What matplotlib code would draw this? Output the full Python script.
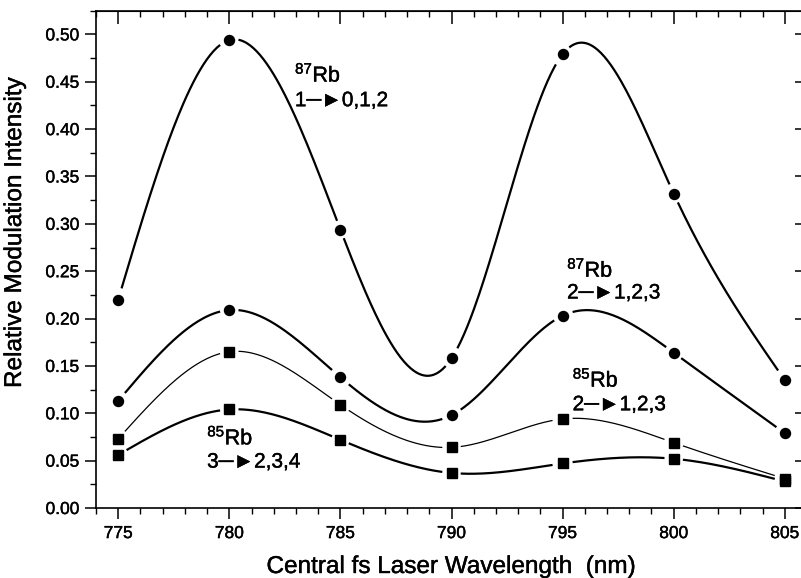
import numpy as np
import matplotlib
matplotlib.use("Agg")
import matplotlib.pyplot as plt
import matplotlib.patheffects as pe

plt.rcParams['font.family'] = ['Liberation Sans', 'DejaVu Sans']
plt.rcParams['mathtext.fontset'] = 'custom'
plt.rcParams['mathtext.rm'] = 'Liberation Sans'
plt.rcParams['mathtext.it'] = 'Liberation Sans'

wavelength = [775, 780, 785, 790, 795, 800, 805]
rb87_1 = [0.220, 0.494, 0.294, 0.158, 0.479, 0.332, 0.135]
rb87_2 = [0.113, 0.209, 0.138, 0.098, 0.203, 0.164, 0.079]
rb85_2 = [0.073, 0.165, 0.109, 0.064, 0.094, 0.069, 0.031]
rb85_3 = [0.056, 0.104, 0.072, 0.037, 0.047, 0.052, 0.028]

labels = [
    (782.95, 0.457, 0.430, "87", "1", "0,1,2"),
    (795.2, 0.251, 0.227, "87", "2", "1,2,3"),
    (795.45, 0.135, 0.109, "85", "2", "1,2,3"),
    (779.0, 0.074, 0.0485, "85", "3", "2,3,4"),
]

thick = [pe.withStroke(linewidth=0.3, foreground='black')]


def natural_spline(x, y, n=400):
    x = np.asarray(x, float)
    y = np.asarray(y, float)
    k = len(x)
    h = np.diff(x)
    A = np.zeros((k, k))
    b = np.zeros(k)
    A[0, 0] = 1
    A[-1, -1] = 1
    for i in range(1, k - 1):
        A[i, i - 1] = h[i - 1]
        A[i, i] = 2 * (h[i - 1] + h[i])
        A[i, i + 1] = h[i]
        b[i] = 6 * ((y[i + 1] - y[i]) / h[i] - (y[i] - y[i - 1]) / h[i - 1])
    M = np.linalg.solve(A, b)
    xs = np.linspace(x[0], x[-1], n)
    idx = np.clip(np.searchsorted(x, xs) - 1, 0, k - 2)
    x0, x1 = x[idx], x[idx + 1]
    hh = x1 - x0
    t0 = x1 - xs
    t1 = xs - x0
    ys = (M[idx] * t0 ** 3 / (6 * hh) + M[idx + 1] * t1 ** 3 / (6 * hh)
          + (y[idx] / hh - M[idx] * hh / 6) * t0
          + (y[idx + 1] / hh - M[idx + 1] * hh / 6) * t1)
    return xs, ys


fig = plt.figure(figsize=(8.01, 5.78), dpi=100)
ax = fig.add_axes([96 / 801, 70 / 578, 711 / 801, 497.3 / 578])
ax.set_xlim(774, 806)
ax.set_ylim(0, 0.525)

series = [
    (rb87_1, 'o', 7.2, 1.6),
    (rb87_2, 'o', 7.2, 1.6),
    (rb85_2, 's', 6.8, 0.9),
    (rb85_3, 's', 6.8, 1.6),
]

fig.canvas.draw()
for ys, mk, ms, lw in series:
    xs_c, ys_c = natural_spline(wavelength, ys)
    disp = ax.transData.transform(np.column_stack([xs_c, ys_c]))
    pts = ax.transData.transform(np.column_stack([wavelength, ys]))
    d = np.min(np.hypot(disp[:, None, 0] - pts[None, :, 0],
                        disp[:, None, 1] - pts[None, :, 1]), axis=1)
    ys_m = ys_c.copy()
    ys_m[d < 9] = np.nan
    ax.plot(xs_c, ys_m, color='black', lw=lw, solid_capstyle='butt', zorder=2)
    ax.plot(wavelength, ys, linestyle='none', marker=mk, ms=ms,
            color='black', zorder=3, clip_on=False)

for x, y1, y2, iso, lo, hi in labels:
    ax.text(x, y1, r"$^{%s}$Rb" % iso, fontsize=15.5, va='center', ha='left',
            path_effects=thick)
    ax.text(x, y2, lo + "\u2500\u25BA" + hi, fontsize=15, va='center', ha='left',
            family=['Liberation Sans', 'DejaVu Sans'], path_effects=thick)

ax.set_xticks(wavelength)
ax.set_xticks(np.arange(774, 807, 1), minor=True)
ax.set_yticks(np.arange(0, 0.501, 0.05))
ax.set_yticks(np.arange(0.025, 0.526, 0.05), minor=True)
ax.set_yticklabels(["%.2f" % v for v in np.arange(0, 0.501, 0.05)])

ax.tick_params(which='major', direction='out', length=8, width=1.1,
               labelsize=12.5, top=False, right=False)
ax.tick_params(axis='y', which='major', pad=4)
ax.tick_params(axis='x', which='major', pad=5)
ax.tick_params(which='minor', direction='out', length=4, width=1.0,
               top=False, right=False)
for lab in ax.get_xticklabels() + ax.get_yticklabels():
    lab.set_path_effects(thick)
for s in ax.spines.values():
    s.set_linewidth(1.2)

sx = ax.secondary_xaxis('top')
sx.set_xticks(wavelength)
sx.set_xticks(np.arange(774, 807, 1), minor=True)
sx.tick_params(which='major', direction='in', length=9, width=1.1, labeltop=False)
sx.tick_params(which='minor', direction='in', length=4, width=1.0)
sx.set_xticklabels([])
sy = ax.secondary_yaxis('right')
sy.set_yticks(np.arange(0, 0.501, 0.05))
sy.set_yticks(np.arange(0.025, 0.526, 0.05), minor=True)
sy.tick_params(which='major', direction='in', length=9, width=1.1, labelright=False)
sy.tick_params(which='minor', direction='in', length=4, width=1.0)
sy.set_yticklabels([])

ax.set_xlabel("Central fs Laser Wavelength  (nm)", fontsize=17.5, path_effects=thick)
ax.set_ylabel("Relative Modulation Intensity", fontsize=17.5, path_effects=thick)
ax.xaxis.set_label_coords(0.5 - 0.0015, (508 - 567) / 497.3)
ax.yaxis.set_label_coords((15 - 96) / 711, (508 - 233) / 497.3)
ax.xaxis.label.set_va('center')
ax.yaxis.label.set_va('center')

fig.savefig("out.png", dpi=100)
